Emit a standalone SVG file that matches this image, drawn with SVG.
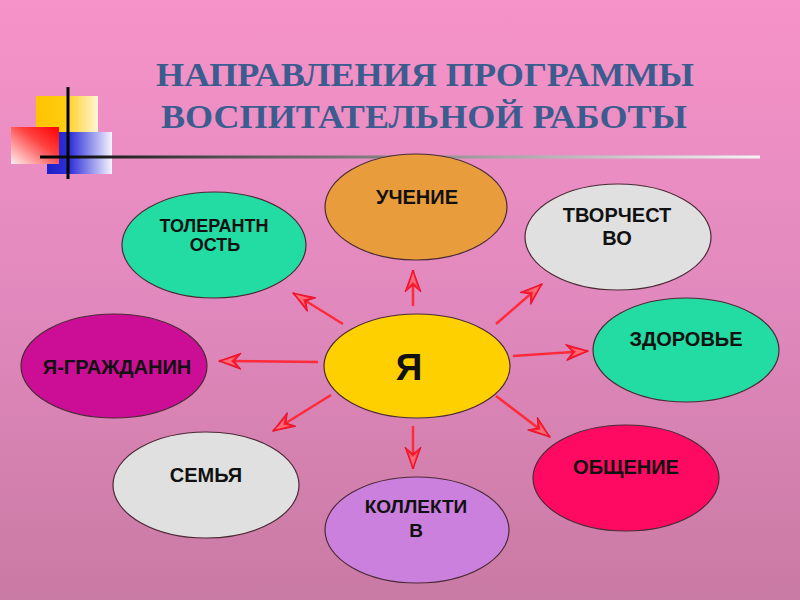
<svg xmlns="http://www.w3.org/2000/svg" width="800" height="600" viewBox="0 0 800 600">
<defs>
<linearGradient id="bg" x1="0" y1="0" x2="0" y2="1">
<stop offset="0" stop-color="#F693C8"/>
<stop offset="0.5" stop-color="#E189BE"/>
<stop offset="1" stop-color="#C97AA3"/>
</linearGradient>
<linearGradient id="gy" x1="0" y1="0" x2="1" y2="0">
<stop offset="0" stop-color="#FFC400"/>
<stop offset="0.45" stop-color="#FFCC10"/>
<stop offset="1" stop-color="#FFF6D8"/>
</linearGradient>
<linearGradient id="gr" x1="1" y1="0" x2="0" y2="1">
<stop offset="0" stop-color="#FF0000"/>
<stop offset="0.4" stop-color="#FF4040"/>
<stop offset="1" stop-color="#FFF0F0"/>
</linearGradient>
<linearGradient id="gb" x1="0" y1="0" x2="1" y2="0">
<stop offset="0" stop-color="#1E1ECC"/>
<stop offset="0.35" stop-color="#3030D8"/>
<stop offset="1" stop-color="#F4F4FF"/>
</linearGradient>
<linearGradient id="gl" x1="40" y1="0" x2="760" y2="0" gradientUnits="userSpaceOnUse">
<stop offset="0" stop-color="#000000"/>
<stop offset="0.25" stop-color="#505050"/>
<stop offset="1" stop-color="#F4F4F4"/>
</linearGradient>
<marker id="ah" viewBox="-24 -9 26 18" refX="0" refY="0" markerWidth="26" markerHeight="18" markerUnits="userSpaceOnUse" orient="auto">
<path d="M0,0 L-22,-8 L-15,0 L-22,8 Z" fill="#FF1E2E" stroke="#E8102A" stroke-width="1"/>
<path d="M-3,0 L-17,-4.5 L-12,0 L-17,4.5 Z" fill="#FF6A78"/>
</marker>
<style>
.node{stroke:#4A2A35;stroke-width:1.2}
.lbl{font-family:"Liberation Sans",Arial,sans-serif;font-weight:bold;font-size:20px;fill:#111;text-anchor:middle}
.arr{stroke:#FF2A3A;stroke-width:2.5;fill:none;marker-end:url(#ah)}
.ttl{font-family:"Liberation Serif","Times New Roman",serif;font-weight:bold;font-size:33px;fill:#3B5C8E;text-anchor:middle}
</style>
</defs>
<rect x="0" y="0" width="800" height="600" fill="url(#bg)"/>

<g id="decor">
<rect x="36" y="96" width="62" height="37" fill="url(#gy)"/>
<rect x="47" y="132" width="65" height="42" fill="url(#gb)"/>
<rect x="11" y="127" width="48" height="37" fill="url(#gr)"/>
<line x1="40" y1="157" x2="760" y2="157" stroke="url(#gl)" stroke-width="3"/>
<line x1="68" y1="87" x2="68" y2="179" stroke="#000" stroke-width="3"/>
</g>

<g id="title">
<text class="ttl" x="425" y="86" textLength="538" lengthAdjust="spacingAndGlyphs">НАПРАВЛЕНИЯ ПРОГРАММЫ</text>
<text class="ttl" x="424" y="128" textLength="526" lengthAdjust="spacingAndGlyphs">ВОСПИТАТЕЛЬНОЙ РАБОТЫ</text>
</g>

<g id="connectors">
<line class="arr" x1="413" y1="306" x2="413" y2="270"/>
<line class="arr" x1="496" y1="324" x2="542" y2="284"/>
<line class="arr" x1="513" y1="356" x2="588" y2="351"/>
<line class="arr" x1="496" y1="396" x2="550" y2="437"/>
<line class="arr" x1="413" y1="426" x2="413" y2="469"/>
<line class="arr" x1="331" y1="395" x2="273" y2="431"/>
<line class="arr" x1="318" y1="362" x2="219" y2="361"/>
<line class="arr" x1="343" y1="324" x2="293" y2="293"/>
</g>

<g id="n-uchenie">
<ellipse class="node" cx="416" cy="207" rx="91" ry="53" fill="#E89C3C" stroke="#7A4A20"/>
<text class="lbl" x="417" y="204">УЧЕНИЕ</text>
</g>
<g id="n-tvorchestvo">
<ellipse class="node" cx="618" cy="237" rx="93" ry="53" fill="#E0E0E0"/>
<text class="lbl" x="617" y="222">ТВОРЧЕСТ</text>
<text class="lbl" x="617" y="245">ВО</text>
</g>
<g id="n-tolerantnost">
<ellipse class="node" cx="214" cy="245" rx="92" ry="53" fill="#22DCA4"/>
<text class="lbl" x="214" y="232" style="font-size:18px">ТОЛЕРАНТН</text>
<text class="lbl" x="215" y="251" style="font-size:18px">ОСТЬ</text>
</g>
<g id="n-zdorovie">
<ellipse class="node" cx="686" cy="350" rx="93" ry="52" fill="#22DCA4"/>
<text class="lbl" x="686" y="346">ЗДОРОВЬЕ</text>
</g>
<g id="n-ya">
<ellipse class="node" cx="417" cy="366" rx="93" ry="52" fill="#FFD000" stroke="#7A4A18"/>
<text class="lbl" x="409" y="380" style="font-size:37px">Я</text>
</g>
<g id="n-grazhdanin">
<ellipse class="node" cx="114" cy="366" rx="93" ry="52" fill="#CC0E96"/>
<text class="lbl" x="117" y="374">Я-ГРАЖДАНИН</text>
</g>
<g id="n-semya">
<ellipse class="node" cx="206" cy="485" rx="93" ry="53" fill="#E0E0E0"/>
<text class="lbl" x="206" y="482">СЕМЬЯ</text>
</g>
<g id="n-obshchenie">
<ellipse class="node" cx="626" cy="478" rx="93" ry="53" fill="#FE0A62"/>
<text class="lbl" x="626" y="474">ОБЩЕНИЕ</text>
</g>
<g id="n-kollektiv">
<ellipse class="node" cx="417" cy="530" rx="92" ry="53" fill="#CC80DE"/>
<text class="lbl" x="416" y="513" style="font-size:19px">КОЛЛЕКТИ</text>
<text class="lbl" x="416" y="537" style="font-size:19px">В</text>
</g>
</svg>
